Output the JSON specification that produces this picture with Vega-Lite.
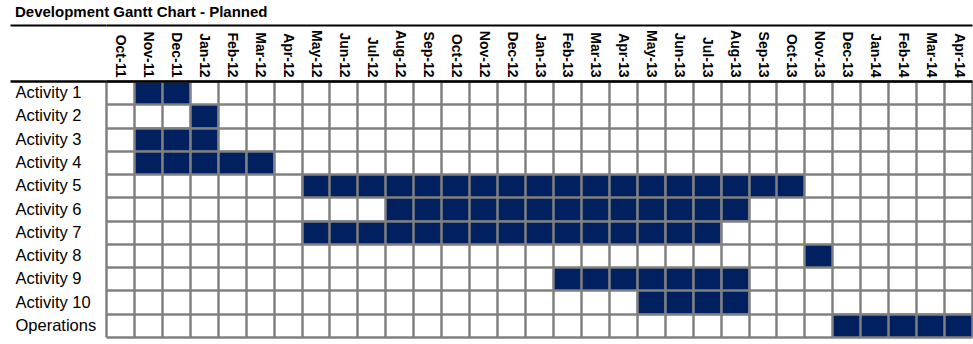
{
  "$schema": "https://vega.github.io/schema/vega-lite/v6.json",
  "width": 866,
  "height": 256,
  "autosize": "none",
  "padding": {"left": 106, "top": 81, "right": 1, "bottom": 7},
  "background": "white",
  "title": {
    "text": "Development Gantt Chart - Planned",
    "anchor": "start",
    "frame": "group",
    "dx": -91,
    "offset": 4,
    "font": "Liberation Sans",
    "fontSize": 15,
    "fontWeight": "bold",
    "color": "black"
  },
  "config": {
    "view": {"stroke": null},
    "font": "Liberation Sans"
  },
  "data": {
    "values": [
      {"activity": "Activity 1", "month": "Nov-11"},
      {"activity": "Activity 1", "month": "Dec-11"},
      {"activity": "Activity 2", "month": "Jan-12"},
      {"activity": "Activity 3", "month": "Nov-11"},
      {"activity": "Activity 3", "month": "Dec-11"},
      {"activity": "Activity 3", "month": "Jan-12"},
      {"activity": "Activity 4", "month": "Nov-11"},
      {"activity": "Activity 4", "month": "Dec-11"},
      {"activity": "Activity 4", "month": "Jan-12"},
      {"activity": "Activity 4", "month": "Feb-12"},
      {"activity": "Activity 4", "month": "Mar-12"},
      {"activity": "Activity 5", "month": "May-12"},
      {"activity": "Activity 5", "month": "Jun-12"},
      {"activity": "Activity 5", "month": "Jul-12"},
      {"activity": "Activity 5", "month": "Aug-12"},
      {"activity": "Activity 5", "month": "Sep-12"},
      {"activity": "Activity 5", "month": "Oct-12"},
      {"activity": "Activity 5", "month": "Nov-12"},
      {"activity": "Activity 5", "month": "Dec-12"},
      {"activity": "Activity 5", "month": "Jan-13"},
      {"activity": "Activity 5", "month": "Feb-13"},
      {"activity": "Activity 5", "month": "Mar-13"},
      {"activity": "Activity 5", "month": "Apr-13"},
      {"activity": "Activity 5", "month": "May-13"},
      {"activity": "Activity 5", "month": "Jun-13"},
      {"activity": "Activity 5", "month": "Jul-13"},
      {"activity": "Activity 5", "month": "Aug-13"},
      {"activity": "Activity 5", "month": "Sep-13"},
      {"activity": "Activity 5", "month": "Oct-13"},
      {"activity": "Activity 6", "month": "Aug-12"},
      {"activity": "Activity 6", "month": "Sep-12"},
      {"activity": "Activity 6", "month": "Oct-12"},
      {"activity": "Activity 6", "month": "Nov-12"},
      {"activity": "Activity 6", "month": "Dec-12"},
      {"activity": "Activity 6", "month": "Jan-13"},
      {"activity": "Activity 6", "month": "Feb-13"},
      {"activity": "Activity 6", "month": "Mar-13"},
      {"activity": "Activity 6", "month": "Apr-13"},
      {"activity": "Activity 6", "month": "May-13"},
      {"activity": "Activity 6", "month": "Jun-13"},
      {"activity": "Activity 6", "month": "Jul-13"},
      {"activity": "Activity 6", "month": "Aug-13"},
      {"activity": "Activity 7", "month": "May-12"},
      {"activity": "Activity 7", "month": "Jun-12"},
      {"activity": "Activity 7", "month": "Jul-12"},
      {"activity": "Activity 7", "month": "Aug-12"},
      {"activity": "Activity 7", "month": "Sep-12"},
      {"activity": "Activity 7", "month": "Oct-12"},
      {"activity": "Activity 7", "month": "Nov-12"},
      {"activity": "Activity 7", "month": "Dec-12"},
      {"activity": "Activity 7", "month": "Jan-13"},
      {"activity": "Activity 7", "month": "Feb-13"},
      {"activity": "Activity 7", "month": "Mar-13"},
      {"activity": "Activity 7", "month": "Apr-13"},
      {"activity": "Activity 7", "month": "May-13"},
      {"activity": "Activity 7", "month": "Jun-13"},
      {"activity": "Activity 7", "month": "Jul-13"},
      {"activity": "Activity 8", "month": "Nov-13"},
      {"activity": "Activity 9", "month": "Feb-13"},
      {"activity": "Activity 9", "month": "Mar-13"},
      {"activity": "Activity 9", "month": "Apr-13"},
      {"activity": "Activity 9", "month": "May-13"},
      {"activity": "Activity 9", "month": "Jun-13"},
      {"activity": "Activity 9", "month": "Jul-13"},
      {"activity": "Activity 9", "month": "Aug-13"},
      {"activity": "Activity 10", "month": "May-13"},
      {"activity": "Activity 10", "month": "Jun-13"},
      {"activity": "Activity 10", "month": "Jul-13"},
      {"activity": "Activity 10", "month": "Aug-13"},
      {"activity": "Operations", "month": "Dec-13"},
      {"activity": "Operations", "month": "Jan-14"},
      {"activity": "Operations", "month": "Feb-14"},
      {"activity": "Operations", "month": "Mar-14"},
      {"activity": "Operations", "month": "Apr-14"}
    ]
  },
  "encoding": {
    "x": {
      "field": "month",
      "type": "nominal",
      "scale": {
        "domain": ["Oct-11","Nov-11","Dec-11","Jan-12","Feb-12","Mar-12","Apr-12","May-12","Jun-12","Jul-12","Aug-12","Sep-12","Oct-12","Nov-12","Dec-12","Jan-13","Feb-13","Mar-13","Apr-13","May-13","Jun-13","Jul-13","Aug-13","Sep-13","Oct-13","Nov-13","Dec-13","Jan-14","Feb-14","Mar-14","Apr-14"],
        "paddingInner": 0,
        "paddingOuter": 0
      },
      "axis": {
        "orient": "top",
        "title": null,
        "tickBand": "extent",
        "ticks": false,
        "grid": true,
        "gridColor": "#808080",
        "gridWidth": 2.5,
        "domain": false,
        "labelAngle": 90,
        "labelAlign": "right",
        "labelBaseline": "middle",
        "labelPadding": 4,
        "labelFont": "Liberation Sans",
        "labelFontSize": 14,
        "labelFontWeight": "bold",
        "labelColor": "black",
        "zindex": 1
      }
    }
  },
  "layer": [
    {
      "mark": {"type": "rect", "color": "#00205F"},
      "encoding": {
        "y": {
          "field": "activity",
          "type": "nominal",
          "scale": {
            "domain": ["Activity 1","Activity 2","Activity 3","Activity 4","Activity 5","Activity 6","Activity 7","Activity 8","Activity 9","Activity 10","Operations"],
            "paddingInner": 0,
            "paddingOuter": 0
          },
          "axis": {
            "orient": "left",
            "title": null,
            "tickBand": "extent",
            "domain": false,
            "ticks": false,
            "grid": true,
            "gridColor": "#808080",
            "gridWidth": 2.5,
            "labelAlign": "left",
            "labelBaseline": "middle",
            "labelPadding": 91,
            "labelFont": "Liberation Sans",
            "labelFontSize": 16.5,
            "labelColor": "black",
            "zindex": 1
          }
        }
      }
    },
    {
      "mark": {"type": "rect", "opacity": 0},
      "encoding": {
        "y": {
          "field": "activity",
          "type": "nominal",
          "axis": {
            "orient": "left",
            "title": null,
            "values": ["Activity 1"],
            "bandPosition": 0,
            "tickOffset": -56,
            "domain": false,
            "labels": false,
            "ticks": true,
            "tickSize": 96,
            "tickWidth": 2,
            "tickColor": "black",
            "grid": true,
            "gridColor": "black",
            "gridWidth": 2,
            "zindex": 1
          }
        }
      }
    },
    {
      "mark": {"type": "rect", "opacity": 0},
      "encoding": {
        "y": {
          "field": "activity",
          "type": "nominal",
          "axis": {
            "orient": "left",
            "title": null,
            "values": ["Activity 1"],
            "bandPosition": 0,
            "domain": false,
            "labels": false,
            "ticks": true,
            "tickSize": 96,
            "tickWidth": 2.5,
            "tickColor": "black",
            "grid": true,
            "gridColor": "black",
            "gridWidth": 2.5,
            "zindex": 2
          }
        }
      }
    }
  ],
  "resolve": {"axis": {"y": "independent"}}
}
